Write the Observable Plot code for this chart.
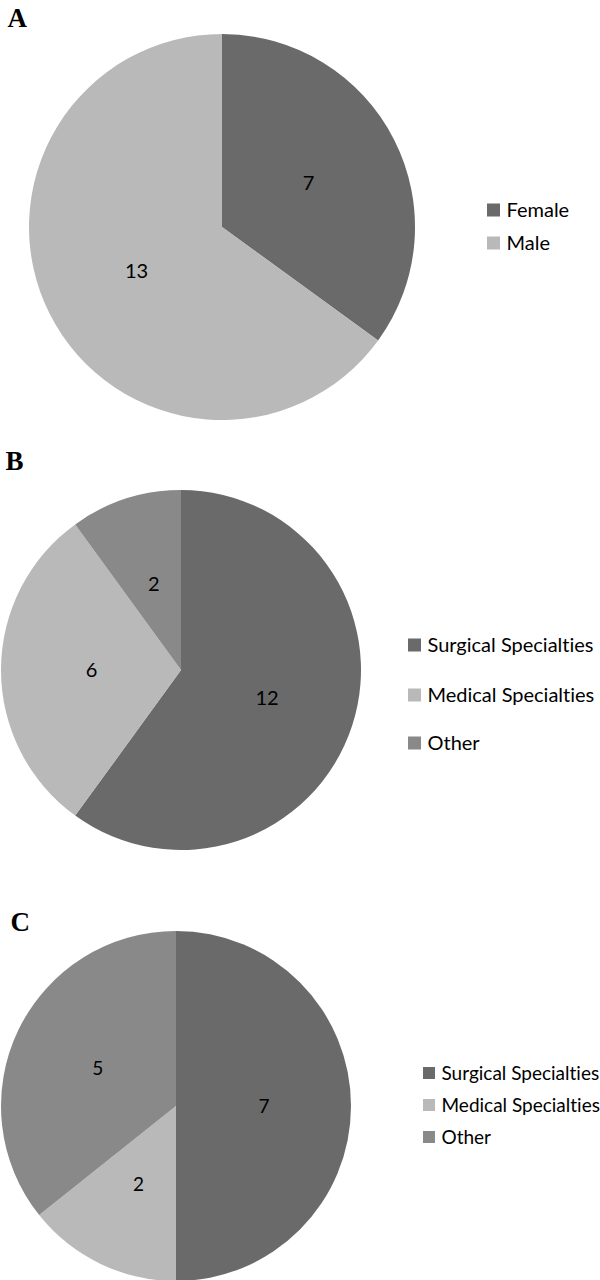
<!DOCTYPE html>
<html>
<head>
<meta charset="utf-8">
<script src="https://cdn.jsdelivr.net/npm/d3@7"></script>
<script src="https://cdn.jsdelivr.net/npm/@observablehq/plot@0.6"></script>
<style>
  html, body { margin: 0; padding: 0; background: #ffffff; }
  #chart { width: 600px; height: 1280px; }
  #chart svg text { font-variant-ligatures: none; font-feature-settings: "liga" 0, "dlig" 0; }
</style>
</head>
<body>
<div id="chart"></div>
<script>
// ---- Data ----
const panels = ["A", "B", "C"];
const genderCategories = ["Female", "Male"];
const genderCounts = [7, 13];
const specialtyCategories = ["Surgical Specialties", "Medical Specialties", "Other"];
const specialtyCountsB = [12, 6, 2];
const specialtyCountsC = [7, 2, 5];

const colorDomain = ["Female", "Male", "Surgical Specialties", "Medical Specialties", "Other"];
const colorRange = ["#6a6a6a", "#b9b9b9", "#6a6a6a", "#b9b9b9", "#898989"];

// ---- Layout (pixels) ----
const layout = {
  A: {cx: 222, cy: 227, r: 193, lx: 487, rows: [210, 243], sq: 13, font: 20, labelFont: 20, letterX: 7, letterY: 18},
  B: {cx: 181, cy: 670, r: 180, lx: 408, rows: [645, 695, 743], sq: 13, font: 20, labelFont: 20, letterX: 5, letterY: 461},
  C: {cx: 176, cy: 1106, r: 175, lx: 423, rows: [1073, 1105, 1137], sq: 12, font: 19, labelFont: 19, letterX: 10, letterY: 922}
};

const panelData = [
  {panel: "A", categories: genderCategories, values: genderCounts},
  {panel: "B", categories: specialtyCategories, values: specialtyCountsB},
  {panel: "C", categories: specialtyCategories, values: specialtyCountsC}
];

// Build slices with d3.pie (clockwise from 12 o'clock)
const slices = [];
const legendItems = [];
for (const p of panelData) {
  const L = layout[p.panel];
  const arcs = d3.pie().sort(null).value(d => d.value)(
    p.categories.map((c, i) => ({category: c, value: p.values[i]}))
  );
  const arcGen = d3.arc().innerRadius(0).outerRadius(L.r);
  for (const a of arcs) {
    const [ox, oy] = arcGen.centroid(a);
    slices.push({
      panel: p.panel, category: a.data.category, value: a.data.value,
      startAngle: a.startAngle, endAngle: a.endAngle,
      cx: L.cx, cy: L.cy, r: L.r,
      labelX: L.cx + ox, labelY: L.cy + oy, font: L.labelFont
    });
  }
  p.categories.forEach((c, i) => {
    legendItems.push({panel: p.panel, category: c, x: L.lx, y: L.rows[i], sq: L.sq, font: L.font});
  });
}
const letters = panels.map(p => ({panel: p, x: layout[p].letterX, y: layout[p].letterY}));

function pieSlices(index, scales) {
  const sx = scales && scales.x ? scales.x : (v => v);
  const sy = scales && scales.y ? scales.y : (v => v);
  const colorFn = scales && scales.color ? scales.color
    : (c => colorRange[colorDomain.indexOf(c)]);
  const g = d3.create("svg:g");
  g.selectAll("path")
    .data(slices)
    .join("path")
    .attr("transform", d => `translate(${sx(d.cx)},${sy(d.cy)})`)
    .attr("d", d => d3.arc().innerRadius(0).outerRadius(d.r)(d))
    .attr("fill", d => colorFn(d.category));
  return g.node();
}

const fontFamily = "Lato, 'Open Sans', sans-serif";

const chart = Plot.plot({
  width: 600,
  height: 1280,
  margin: 0,
  style: {background: "#ffffff", fontFamily},
  x: {type: "identity", axis: null},
  y: {type: "identity", axis: null},
  color: {type: "ordinal", domain: colorDomain, range: colorRange},
  marks: [
    pieSlices,
    Plot.text(slices, {
      x: "labelX", y: "labelY", text: d => String(d.value),
      fill: "#000000", fontSize: d => d.font, fontFamily
    }),
    Plot.rect(legendItems, {
      x1: "x", x2: d => d.x + d.sq,
      y1: d => d.y - d.sq / 2, y2: d => d.y + d.sq / 2,
      fill: "category"
    }),
    Plot.text(legendItems, {
      x: d => d.x + d.sq + 6, y: "y", text: "category", textAnchor: "start",
      fill: "#000000", fontSize: d => d.font, fontFamily
    }),
    Plot.text(letters, {
      x: "x", y: "y", text: "panel", textAnchor: "start",
      fill: "#000000", fontSize: 27, fontWeight: "bold",
      fontFamily: "'Liberation Serif', 'Times New Roman', serif"
    })
  ]
});

document.getElementById("chart").appendChild(chart);
</script>
</body>
</html>
